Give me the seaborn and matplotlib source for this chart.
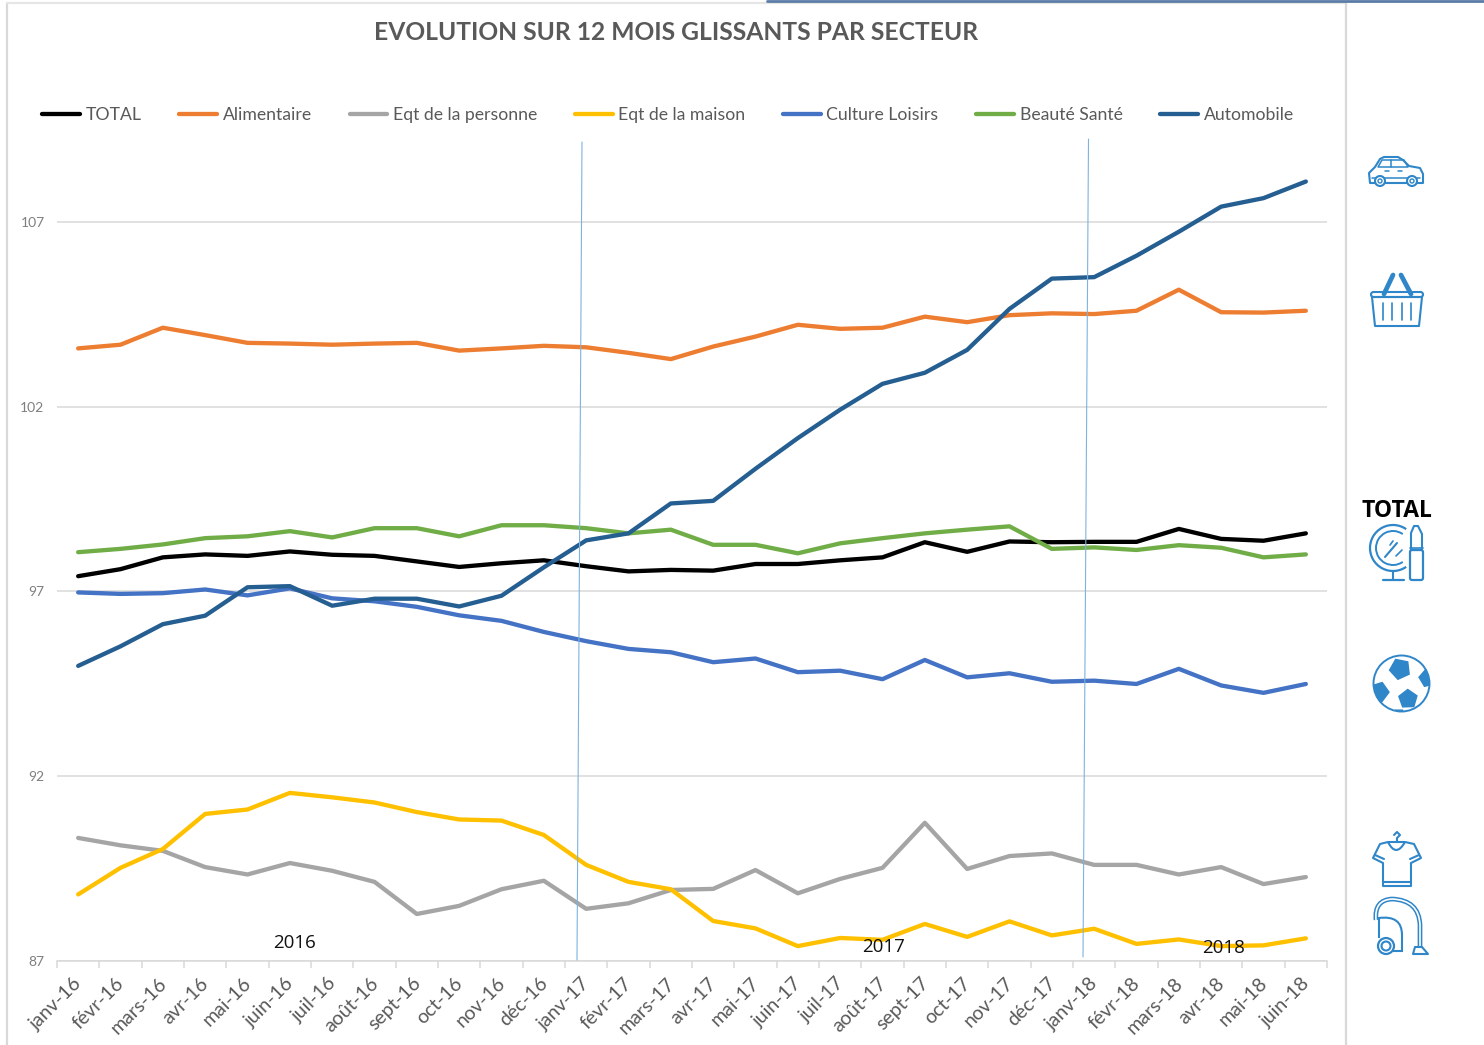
import numpy as np
import pandas as pd
import seaborn as sns
import matplotlib.pyplot as plt
from matplotlib.patches import Circle, Polygon, RegularPolygon, Arc, FancyBboxPatch, PathPatch
from matplotlib.path import Path
from matplotlib.transforms import ScaledTranslation

mois = ['janv-16', 'févr-16', 'mars-16', 'avr-16', 'mai-16', 'juin-16', 'juil-16', 'août-16', 'sept-16', 'oct-16',
        'nov-16', 'déc-16', 'janv-17', 'févr-17', 'mars-17', 'avr-17', 'mai-17', 'juin-17', 'juil-17', 'août-17',
        'sept-17', 'oct-17', 'nov-17', 'déc-17', 'janv-18', 'févr-18', 'mars-18', 'avr-18', 'mai-18', 'juin-18']

total = [97.41, 97.60, 97.92, 98.00, 97.96, 98.08, 97.99, 97.96, 97.81, 97.66,
         97.76, 97.84, 97.68, 97.54, 97.58, 97.56, 97.74, 97.74, 97.84, 97.92,
         98.33, 98.07, 98.35, 98.33, 98.34, 98.34, 98.69, 98.42, 98.37, 98.57]
alimentaire = [103.58, 103.68, 104.14, 103.94, 103.73, 103.71, 103.68, 103.71, 103.73, 103.52,
               103.58, 103.65, 103.61, 103.46, 103.29, 103.63, 103.90, 104.22, 104.11, 104.14,
               104.44, 104.29, 104.48, 104.53, 104.51, 104.60, 105.17, 104.56, 104.55, 104.60]
personne = [90.32, 90.12, 89.97, 89.53, 89.33, 89.64, 89.43, 89.13, 88.26, 88.48,
            88.93, 89.16, 88.40, 88.55, 88.91, 88.94, 89.45, 88.82, 89.21, 89.51,
            90.73, 89.48, 89.83, 89.90, 89.59, 89.59, 89.33, 89.53, 89.07, 89.26]
maison = [88.79, 89.51, 90.02, 90.97, 91.09, 91.54, 91.42, 91.28, 91.02, 90.82,
          90.79, 90.40, 89.59, 89.13, 88.93, 88.07, 87.87, 87.39, 87.61, 87.56,
          87.99, 87.64, 88.06, 87.68, 87.86, 87.45, 87.57, 87.39, 87.41, 87.60]
culture = [96.97, 96.93, 96.95, 97.05, 96.89, 97.08, 96.81, 96.73, 96.58, 96.35,
           96.20, 95.90, 95.65, 95.44, 95.35, 95.08, 95.18, 94.81, 94.85, 94.62,
           95.14, 94.67, 94.78, 94.55, 94.58, 94.49, 94.90, 94.45, 94.25, 94.49]
beaute = [98.06, 98.15, 98.27, 98.44, 98.49, 98.63, 98.46, 98.71, 98.71, 98.49,
          98.79, 98.79, 98.71, 98.57, 98.67, 98.26, 98.26, 98.03, 98.30, 98.44,
          98.57, 98.67, 98.76, 98.15, 98.19, 98.12, 98.25, 98.18, 97.92, 98.00]
auto = [94.98, 95.51, 96.11, 96.34, 97.11, 97.14, 96.61, 96.80, 96.80, 96.59,
        96.88, 97.65, 98.38, 98.57, 99.38, 99.45, 100.32, 101.15, 101.92, 102.62,
        102.92, 103.54, 104.65, 105.47, 105.51, 106.09, 106.74, 107.42, 107.65, 108.10]

secteurs = ['TOTAL', 'Alimentaire', 'Eqt de la personne', 'Eqt de la maison', 'Culture Loisirs', 'Beauté Santé', 'Automobile']
couleurs = ['#000000', '#ed7d31', '#a5a5a5', '#ffc000', '#4472c4', '#70ad47', '#255e91']
y_ticks = [87, 92, 97, 102, 107]

W, H = 1484, 1045
GRIS = '#d9d9d9'
BLEU = '#2f86c8'

sns.set_theme(style='white')
plt.rcParams['font.family'] = ['Lato', 'DejaVu Sans']

df = pd.DataFrame({'mois': mois, 'TOTAL': total, 'Alimentaire': alimentaire, 'Eqt de la personne': personne,
                   'Eqt de la maison': maison, 'Culture Loisirs': culture, 'Beauté Santé': beaute, 'Automobile': auto})
df = df.melt(id_vars='mois', var_name='secteur', value_name='indice')

fig = plt.figure(figsize=(W / 100, H / 100), dpi=100)
ax = fig.add_axes([57 / W, (H - 960.5) / H, 1270 / W, 812.2 / H])

sns.lineplot(data=df, x='mois', y='indice', hue='secteur', hue_order=secteurs, palette=couleurs,
             sort=False, errorbar=None, linewidth=3.1, solid_capstyle='round', ax=ax)

ax.set_xlim(-0.5, 29.5)
ax.set_ylim(87, 109)
ax.set_xlabel('')
ax.set_ylabel('')
ax.set_yticks(y_ticks)
ax.tick_params(axis='y', length=0, pad=9, labelsize=10, labelcolor='#7f7f7f')
ax.set_xticks(range(len(mois)))
ax.set_xticklabels(mois, rotation=45, ha='right', rotation_mode='anchor', fontsize=14, color='#595959')
ax.tick_params(axis='x', which='major', length=0, pad=10)
decale = ScaledTranslation(-5 / 100, 0, fig.dpi_scale_trans)
for lab in ax.get_xticklabels():
    lab.set_transform(lab.get_transform() + decale)
ax.set_xticks(np.arange(-0.5, 30), minor=True)
ax.tick_params(axis='x', which='minor', bottom=True, length=5, width=1.1, color=GRIS)
ax.grid(axis='y', color=GRIS, linewidth=1.1)
ax.set_axisbelow(True)
for s in ['top', 'left', 'right']:
    ax.spines[s].set_visible(False)
ax.spines['bottom'].set_color(GRIS)
ax.spines['bottom'].set_linewidth(1.1)

sns.move_legend(ax, loc='center', bbox_to_anchor=(668 / W, (H - 115) / H), bbox_transform=fig.transFigure, ncol=7,
                frameon=False, title=None, fontsize=12.7, labelcolor='#595959', handlelength=2.15,
                handletextpad=0.3, columnspacing=2.15)
fig.suptitle('EVOLUTION SUR 12 MOIS GLISSANTS PAR SECTEUR', x=676.5 / W, y=(H - 32.5) / H, va='center',
             fontsize=17.7, fontweight='bold', color='#595959')

# calque en pixels pour le cadre, les reperes et les icones
ov = fig.add_axes([0, 0, 1, 1], zorder=5)
ov.set_xlim(0, W)
ov.set_ylim(H, 0)
ov.axis('off')


def trait(xs, ys, c=BLEU, lw=1.5, **kw):
    ov.plot(xs, ys, color=c, linewidth=lw, solid_capstyle='round', solid_joinstyle='round', **kw)


def contour(pts, lw=1.5):
    ov.add_patch(Polygon(pts, closed=True, fill=False, edgecolor=BLEU, linewidth=lw, joinstyle='round'))


def rond(x, y, r, lw=1.5):
    ov.add_patch(Circle((x, y), r, facecolor='white', edgecolor=BLEU, linewidth=lw, zorder=3))


# cadre
trait([6.5, 6.5], [3, H], GRIS, 1.6)
trait([6.5, 1345.5], [3, 3], '#e6e6e6', 1.6)
trait([1345.5, 1345.5], [3, H], GRIS, 1.6)
ov.plot([767, W], [1, 1], color='#5b7ca6', linewidth=2)

# separateurs d'annees
ov.plot([582, 577], [142, 960], color='#7fb2de', linewidth=0.8)
ov.plot([1088.5, 1083], [139, 957], color='#7fb2de', linewidth=0.8)
ov.text(294, 943, '2016', ha='center', va='center', fontsize=13.5, color='#111111', family=['Open Sans', 'DejaVu Sans'])
ov.text(884, 947, '2017', ha='center', va='center', fontsize=13.5, color='#111111', family=['Open Sans', 'DejaVu Sans'])
ov.text(1224, 948, '2018', ha='center', va='center', fontsize=13.5, color='#111111', family=['Open Sans', 'DejaVu Sans'])

# voiture
contour([(1370, 183), (1369, 173), (1375, 167), (1380, 159), (1384, 157), (1398, 157), (1403, 160), (1409, 166),
         (1420, 168), (1423, 174), (1423, 183)])
contour([(1378, 167), (1382, 160), (1404, 160), (1408, 167)], lw=1.1)
trait([1391, 1391], [160, 167], lw=1.1)
trait([1372, 1420], [178, 178], lw=1.1)
trait([1385, 1389], [171, 171], lw=1.1)
trait([1398, 1402], [171, 171], lw=1.1)
for cx in [1380, 1412]:
    rond(cx, 181, 5)
    ov.add_patch(Circle((cx, 181), 2, fill=False, edgecolor=BLEU, linewidth=1, zorder=4))

# panier
trait([1384, 1393], [294, 275], lw=3.4)
trait([1401, 1411], [275, 294], lw=3.4)
ov.add_patch(FancyBboxPatch((1371, 292), 52, 5, boxstyle='round,pad=0,rounding_size=2.5', fill=False,
                            edgecolor=BLEU, linewidth=1.5))
contour([(1372, 297), (1375, 326), (1419, 326), (1422, 297)])
for bx in [1383, 1392, 1402, 1411]:
    trait([bx, bx], [303, 320], lw=1.2)

# TOTAL et miroir / rouge a levres
ov.text(1396.5, 511, 'TOTAL', ha='center', va='center', fontsize=16.5, fontweight='bold', color='black',
        family=['Open Sans', 'DejaVu Sans'])
ov.add_patch(Arc((1393, 548), 46, 46, theta1=55, theta2=305, edgecolor=BLEU, linewidth=1.6))
ov.add_patch(Arc((1393, 548), 34, 34, theta1=55, theta2=305, edgecolor=BLEU, linewidth=1.4))
trait([1393, 1393], [571, 579])
trait([1383, 1404], [579.5, 579.5], lw=1.6)
trait([1385, 1397], [557, 543])
trait([1390, 1393], [545, 541], lw=1.2)
trait([1396, 1402], [556, 550], lw=1.2)
ov.add_patch(FancyBboxPatch((1410, 550), 13, 30, boxstyle='round,pad=0,rounding_size=2', fill=False,
                            edgecolor=BLEU, linewidth=1.6))
contour([(1411, 550), (1411, 533), (1414, 526), (1418, 526), (1422, 534), (1422, 550)])
trait([1410, 1423], [548, 548], lw=1.2)

# ballon
balle = Circle((1401.5, 683.5), 28, facecolor='white', edgecolor=BLEU, linewidth=1.4)
ov.add_patch(balle)
for px, py, pr, ang in [(1400, 669, 10.5, 0.2), (1408, 699, 9.5, 0.6), (1379, 692, 10, -0.3), (1428, 678, 9, 0.4), (1399, 715, 6, 0)]:
    p = RegularPolygon((px, py), 5, radius=pr, orientation=ang, facecolor=BLEU, edgecolor=BLEU)
    ov.add_patch(p)
    p.set_clip_path(balle)

# t-shirt
contour([(1388, 842), (1380, 844), (1373, 858), (1383, 863), (1383, 886), (1411, 886), (1411, 863), (1421, 858),
         (1414, 844), (1405, 842)])
ov.add_patch(PathPatch(Path([(1388, 842), (1396, 858), (1405, 842)], [Path.MOVETO, Path.CURVE3, Path.CURVE3]),
                       fill=False, edgecolor=BLEU, linewidth=1.5))
trait([1383, 1411], [882, 882])
trait([1375, 1384], [855, 859])
trait([1419, 1410], [855, 859])
trait([1397, 1397, 1400, 1397, 1394], [842, 838, 835, 832, 835])

# aspirateur
tuyau = Path([(1376, 920), (1374, 900), (1392, 899), (1419, 900), (1420, 925), (1420, 947)],
             [Path.MOVETO, Path.CURVE3, Path.CURVE3, Path.CURVE3, Path.CURVE3, Path.LINETO])
ov.add_patch(PathPatch(tuyau, fill=False, edgecolor=BLEU, linewidth=3.4))
ov.add_patch(PathPatch(tuyau, fill=False, edgecolor='white', linewidth=1.2))
contour([(1415, 947), (1422, 947), (1428, 954), (1413, 954)])
ov.add_patch(PathPatch(Path([(1379, 938), (1379, 918), (1402, 915), (1402, 935), (1402, 951), (1392, 951)],
                            [Path.MOVETO, Path.LINETO, Path.CURVE3, Path.CURVE3, Path.LINETO, Path.LINETO]),
                       fill=False, edgecolor=BLEU, linewidth=1.5))
rond(1386, 946, 8, lw=1.6)
rond(1386, 946, 4.5)

fig.savefig('out.png', dpi=100)
